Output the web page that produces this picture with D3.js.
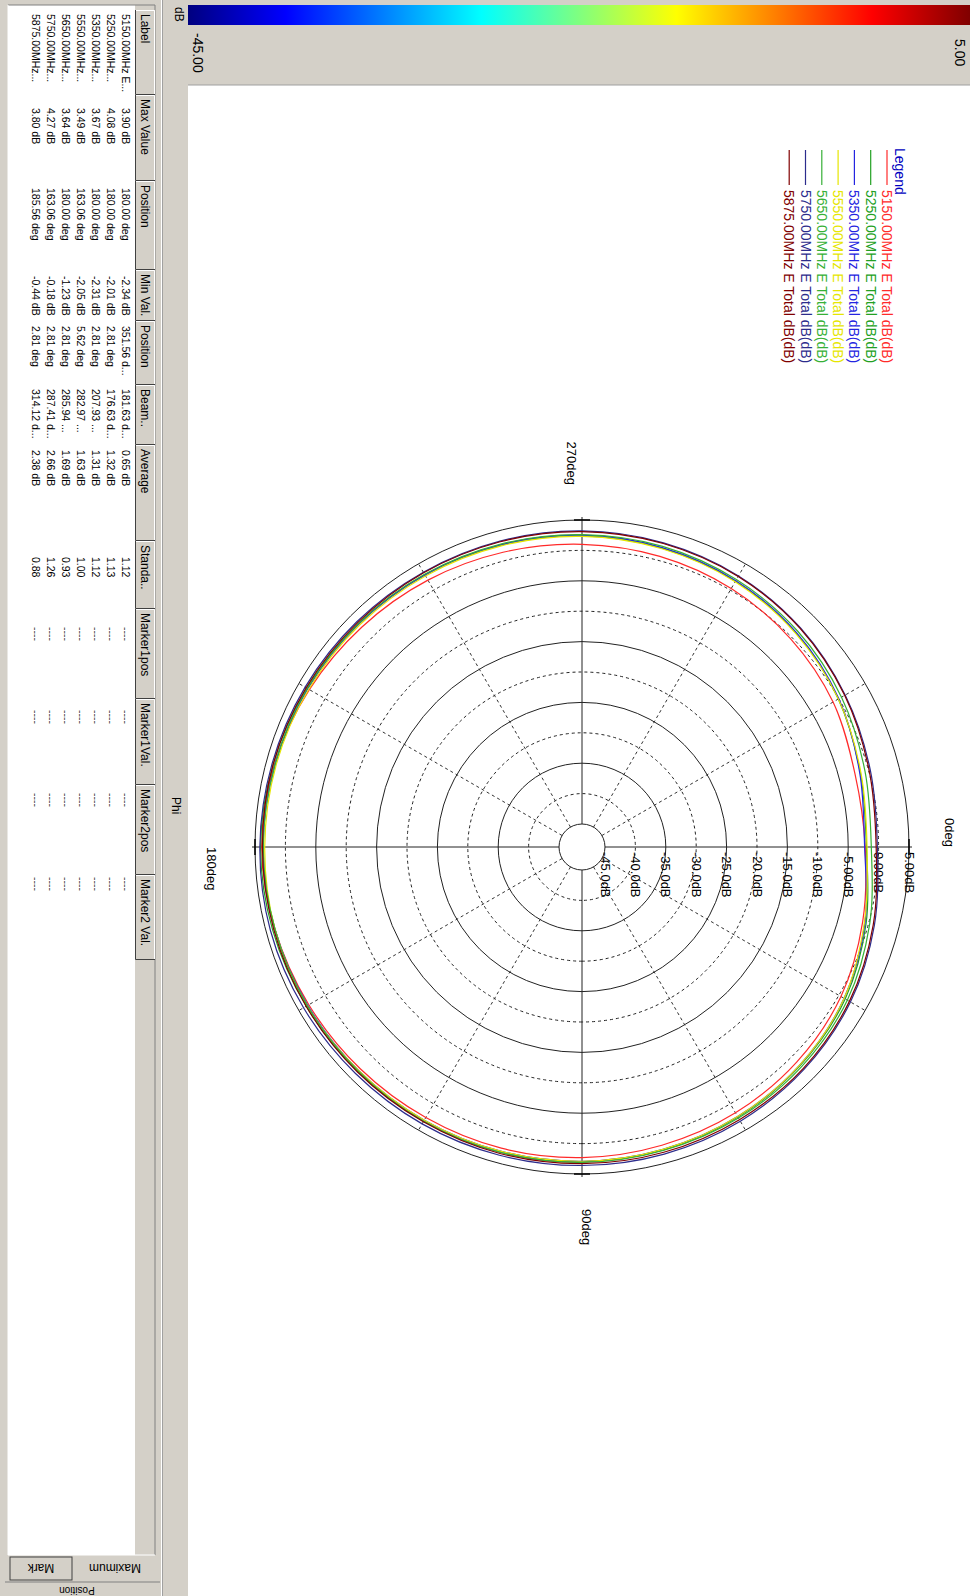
<!DOCTYPE html>
<html><head><meta charset="utf-8">
<script src="https://cdn.jsdelivr.net/npm/d3@7"></script>
<style>
html,body{margin:0;padding:0;background:#fff;}
svg{display:block;font-family:"Liberation Sans",Arial,sans-serif;}
</style></head><body>
<svg id="chart" width="970" height="1596"></svg>
<script>
// ---- data -------------------------------------------------------------
// azimuth (Phi) sample angles in degrees, shared by every trace
const angles = [0,15,30,45,60,75,90,105,120,135,150,165,180,195,210,225,240,255,270,285,300,315,330,345];

const seriesNames = [
  "5150.00MHz E Total dB(dB)", "5250.00MHz E Total dB(dB)", "5350.00MHz E Total dB(dB)",
  "5550.00MHz E Total dB(dB)", "5650.00MHz E Total dB(dB)", "5750.00MHz E Total dB(dB)",
  "5875.00MHz E Total dB(dB)"];
const seriesColors = ["#ff2a2a", "#22a022", "#2424e0", "#e6e600", "#36b036", "#2c2c8c", "#800000"];

// total E-field gain (dB) at each angle
const gain5150 = [-2.2,-1.0,0.4,1.2,1.7,2.0,2.3,2.5,2.6,2.8,3.1,3.5,3.90,3.6,3.0,2.4,1.9,1.4,1.0,0.7,0.3,-0.3,-1.1,-2.3];
const gain5250 = [-2.0,-0.4,1.2,2.0,2.5,2.8,3.0,3.2,3.3,3.4,3.6,3.9,4.08,3.8,3.5,3.2,2.9,2.6,2.4,2.1,1.7,1.0,-0.1,-1.4];
const gain5350 = [-2.3,-0.6,1.0,1.9,2.4,2.7,2.9,3.0,3.1,3.2,3.3,3.5,3.67,3.5,3.3,3.1,2.9,2.7,2.5,2.2,1.8,1.1,0.0,-1.5];
const gain5550 = [-1.9,-0.7,1.0,1.9,2.4,2.7,2.9,3.0,3.1,3.2,3.4,3.49,3.4,3.3,3.1,2.9,2.7,2.5,2.3,2.0,1.6,0.9,-0.1,-1.3];
const gain5650 = [-1.2,0.2,1.6,2.3,2.7,2.9,3.1,3.2,3.3,3.3,3.4,3.5,3.64,3.5,3.4,3.2,3.0,2.8,2.6,2.4,2.0,1.4,0.5,-0.6];
const gain5750 = [-0.2,1.0,2.2,2.9,3.3,3.5,3.6,3.7,3.8,3.9,4.1,4.27,4.2,4.0,3.8,3.6,3.4,3.3,3.2,3.0,2.7,2.1,1.2,0.3];
const gain5875 = [-0.4,0.8,2.0,2.7,3.0,3.2,3.3,3.4,3.4,3.5,3.6,3.7,3.78,3.8,3.6,3.4,3.3,3.2,3.1,2.9,2.6,2.0,1.1,0.1];
const seriesGains = [gain5150, gain5250, gain5350, gain5550, gain5650, gain5750, gain5875];

// polar grid
const ringValues = [-45,-40,-35,-30,-25,-20,-15,-10,-5,0,5];
const ringLabels = ["-45.0dB","-40.0dB","-35.0dB","-30.0dB","-25.0dB","-20.0dB","-15.0dB","-10.0dB","-5.00dB","0.00dB","5.00dB"];
const spokeAngles = [30,60,120,150,210,240,300,330];
const axisAngles = [0,90,180,270];
const angleLabels = ["0deg","90deg","180deg","270deg"];

// colour scale
const scaleMin = -45, scaleMax = 5;
const scaleTickLabels = ["-45.00", "5.00"];
const jetColors = ["#000080","#0000ff","#00ffff","#ffff00","#ff0000","#800000"];
const jetStops = [0, 0.125, 0.375, 0.625, 0.875, 1];

// statistics table
const tableHeaders = ["Label","Max Value","Position","Min Val.","Position","Beam..","Average","Standa..","Marker1pos","Marker1Val.","Marker2pos","Marker2 Val."];
const tableLabels = ["5150.00MHz E...","5250.00MHz...","5350.00MHz...","5550.00MHz...","5650.00MHz...","5750.00MHz...","5875.00MHz..."];
const maxValues = ["3.90 dB","4.08 dB","3.67 dB","3.49 dB","3.64 dB","4.27 dB","3.80 dB"];
const maxPositions = ["180.00 deg","180.00 deg","180.00 deg","163.06 deg","180.00 deg","163.06 deg","185.56 deg"];
const minValues = ["-2.34 dB","-2.01 dB","-2.31 dB","-2.05 dB","-1.23 dB","-0.18 dB","-0.44 dB"];
const minPositions = ["351.56 d...","2.81 deg","2.81 deg","5.62 deg","2.81 deg","2.81 deg","2.81 deg"];
const beamWidths = ["181.63 d...","176.63 d...","207.93 ...","282.97 ...","285.94 ...","287.41 d...","314.12 d..."];
const averages = ["0.65 dB","1.32 dB","1.31 dB","1.63 dB","1.69 dB","2.66 dB","2.38 dB"];
const stdDevs = ["1.12","1.13","1.12","1.00","0.93","1.26","0.88"];
const markerBlank = "----";
const tabLabels = ["Mark","Maximum","Position"];

// ---- drawing ----------------------------------------------------------
const svg = d3.select("#chart");
const panelGrey = "#d4d0c8";

// The application window is laid out landscape (1596 x 970) and turned a quarter turn clockwise.
const g = svg.append("g").attr("transform", "translate(970,0) rotate(90)");
const W = 1596, H = 970;

g.append("rect").attr("width", W).attr("height", H).attr("fill", panelGrey);
// white plot area
g.append("rect").attr("x", 85).attr("y", 0).attr("width", W - 85).attr("height", 782).attr("fill", "#fff");
g.append("line").attr("x1", 85).attr("x2", 85).attr("y1", 0).attr("y2", 782).attr("stroke", "#a0a0a0");

// colour bar
const defs = svg.append("defs");
const grad = defs.append("linearGradient").attr("id", "jet")
  .attr("x1", 0).attr("y1", 1).attr("x2", 0).attr("y2", 0);
jetStops.forEach((s, i) => grad.append("stop").attr("offset", s).attr("stop-color", jetColors[i]));
const cbScale = d3.scaleLinear().domain([scaleMin, scaleMax]).range([782, 0]);
g.append("rect").attr("x", 5).attr("y", cbScale(scaleMax)).attr("width", 20)
  .attr("height", cbScale(scaleMin) - cbScale(scaleMax)).attr("fill", "url(#jet)");
g.append("text").attr("x", 33).attr("y", cbScale(scaleMin) - 5).attr("font-size", 14).text(scaleTickLabels[0]);
g.append("text").attr("x", 39).attr("y", cbScale(scaleMax) + 15).attr("font-size", 14).text(scaleTickLabels[1]);
g.append("text").attr("x", 7).attr("y", 795).attr("font-size", 12).text("dB");

// axis title strip
g.append("line").attr("x1", 0).attr("x2", W).attr("y1", 807.5).attr("y2", 807.5).attr("stroke", "#a0a0a0");
g.append("line").attr("x1", 0).attr("x2", W).attr("y1", 808.5).attr("y2", 808.5).attr("stroke", "#fff");
g.append("text").attr("x", 797).attr("y", 798).attr("font-size", 12).text("Phi");

// ---- polar chart ----
const cx = 847, cy = 388;
const r = d3.scaleLinear().domain([scaleMin, scaleMax]).range([23, 327]);
const R = r(scaleMax);
const plot = g.append("g").attr("transform", `translate(${cx},${cy})`);

ringValues.forEach((v, i) => {
  plot.append("circle").attr("r", r(v)).attr("fill", "none")
    .attr("stroke", "#222").attr("stroke-width", i % 2 === 0 ? 1 : 1)
    .attr("stroke-dasharray", i % 2 === 0 ? null : "3,3");
});
const rad = a => a * Math.PI / 180;
spokeAngles.forEach(a => {
  plot.append("line")
    .attr("x1", r(scaleMin) * Math.sin(rad(a))).attr("y1", -r(scaleMin) * Math.cos(rad(a)))
    .attr("x2", R * Math.sin(rad(a))).attr("y2", -R * Math.cos(rad(a)))
    .attr("stroke", "#333").attr("stroke-dasharray", "3,3");
});
axisAngles.forEach(a => {
  const s = Math.sin(rad(a)), c = Math.cos(rad(a));
  plot.append("line")
    .attr("x1", r(scaleMin) * s).attr("y1", -r(scaleMin) * c)
    .attr("x2", (R + 3) * s).attr("y2", -(R + 3) * c)
    .attr("stroke", "#222");
  plot.append("line")
    .attr("x1", R * s - 8 * c).attr("y1", -R * c - 8 * s)
    .attr("x2", R * s + 8 * c).attr("y2", -R * c + 8 * s)
    .attr("stroke", "#000").attr("stroke-width", 1.5);
});

// radial scale labels along the 0deg axis
ringValues.forEach((v, i) => {
  plot.append("text").attr("x", 5).attr("y", -r(v) + 4.5)
    .attr("font-size", 13).text(ringLabels[i]);
});

// angle labels
const al = [
  {x: 0, y: -R - 36, anchor: "end"},
  {x: R + 35, y: 0, anchor: "start"},
  {x: 0, y: R + 48, anchor: "start"},
  {x: -R - 35, y: 15, anchor: "end"}
];
al.forEach((p, i) => plot.append("text").attr("x", p.x).attr("y", p.y)
  .attr("text-anchor", p.anchor).attr("font-size", 13).text(angleLabels[i]));

// traces
const radialLine = d3.lineRadial()
  .angle(d => rad(d.a))
  .radius(d => r(d.v))
  .curve(d3.curveCatmullRomClosed);
seriesGains.forEach((vals, i) => {
  plot.append("path")
    .datum(angles.map((a, k) => ({a, v: vals[k]})))
    .attr("d", radialLine)
    .attr("fill", "none").attr("stroke", seriesColors[i]).attr("stroke-width", 1.2);
});

// legend
const lg = g.append("g").attr("transform", "translate(148,0)");
lg.append("text").attr("x", 0).attr("y", 75).attr("font-size", 14).attr("fill", "#0000c0").text("Legend");
seriesNames.forEach((n, i) => {
  const y = 83 + i * 16.3;
  lg.append("line").attr("x1", 2).attr("x2", 37).attr("y1", y).attr("y2", y)
    .attr("stroke", seriesColors[i]).attr("stroke-width", 1.2);
  lg.append("text").attr("x", 42).attr("y", y + 5).attr("font-size", 14)
    .attr("fill", seriesColors[i]).text(n);
});

// ---- statistics table ----
const colEdges = [10,95,181,270,321,385,445,541,609,699,785,875,960];
const colTextX = [14,108,188,276,326,389,450,557,627,710,793,877];
const tableTop = 815, headerH = 20;

g.append("rect").attr("x", 5).attr("y", tableTop + headerH).attr("width", 1550)
  .attr("height", 962 - tableTop - headerH).attr("fill", "#fff");
g.append("path").attr("d", `M5,962V${tableTop}H1555`).attr("fill", "none").attr("stroke", "#808080");
g.append("path").attr("d", `M1555,${tableTop}V962H5`).attr("fill", "none").attr("stroke", "#fff");

tableHeaders.forEach((h, i) => {
  const x0 = colEdges[i], x1 = colEdges[i + 1];
  g.append("rect").attr("x", x0).attr("y", tableTop).attr("width", x1 - x0).attr("height", headerH).attr("fill", panelGrey);
  g.append("path").attr("d", `M${x0 + 0.5},${tableTop + headerH}V${tableTop + 0.5}H${x1}`).attr("fill", "none").attr("stroke", "#fff");
  g.append("path").attr("d", `M${x0},${tableTop + headerH - 0.5}H${x1 - 0.5}V${tableTop}`).attr("fill", "none").attr("stroke", "#404040");
  g.append("text").attr("x", x0 + 4).attr("y", tableTop + 14.5).attr("font-size", 12).text(h);
});

const columns = [tableLabels, maxValues, maxPositions, minValues, minPositions, beamWidths, averages, stdDevs];
tableLabels.forEach((_, row) => {
  const y = 845 + row * 15 + 3.5;
  columns.forEach((col, c) => {
    g.append("text").attr("x", colTextX[c]).attr("y", y).attr("font-size", 10.5).text(col[row]);
  });
  for (let c = 8; c < 12; c++) {
    g.append("text").attr("x", colTextX[c]).attr("y", y).attr("font-size", 10.5).attr("fill", "#444").text(markerBlank);
  }
});

// side tabs
g.append("rect").attr("x", 1557).attr("y", 898).attr("width", 23).attr("height", 62)
  .attr("fill", panelGrey).attr("stroke", "#404040");
[[1568, 929, 12], [1568, 855, 12], [1590, 893, 10]].forEach((p, i) => {
  g.append("text").attr("transform", `translate(${p[0]},${p[1]}) rotate(90)`)
    .attr("text-anchor", "middle").attr("dy", "0.35em").attr("font-size", p[2]).text(tabLabels[i]);
});
g.append("line").attr("x1", 1582).attr("x2", 1582).attr("y1", 810).attr("y2", 965).attr("stroke", "#808080");
</script>
</body></html>
